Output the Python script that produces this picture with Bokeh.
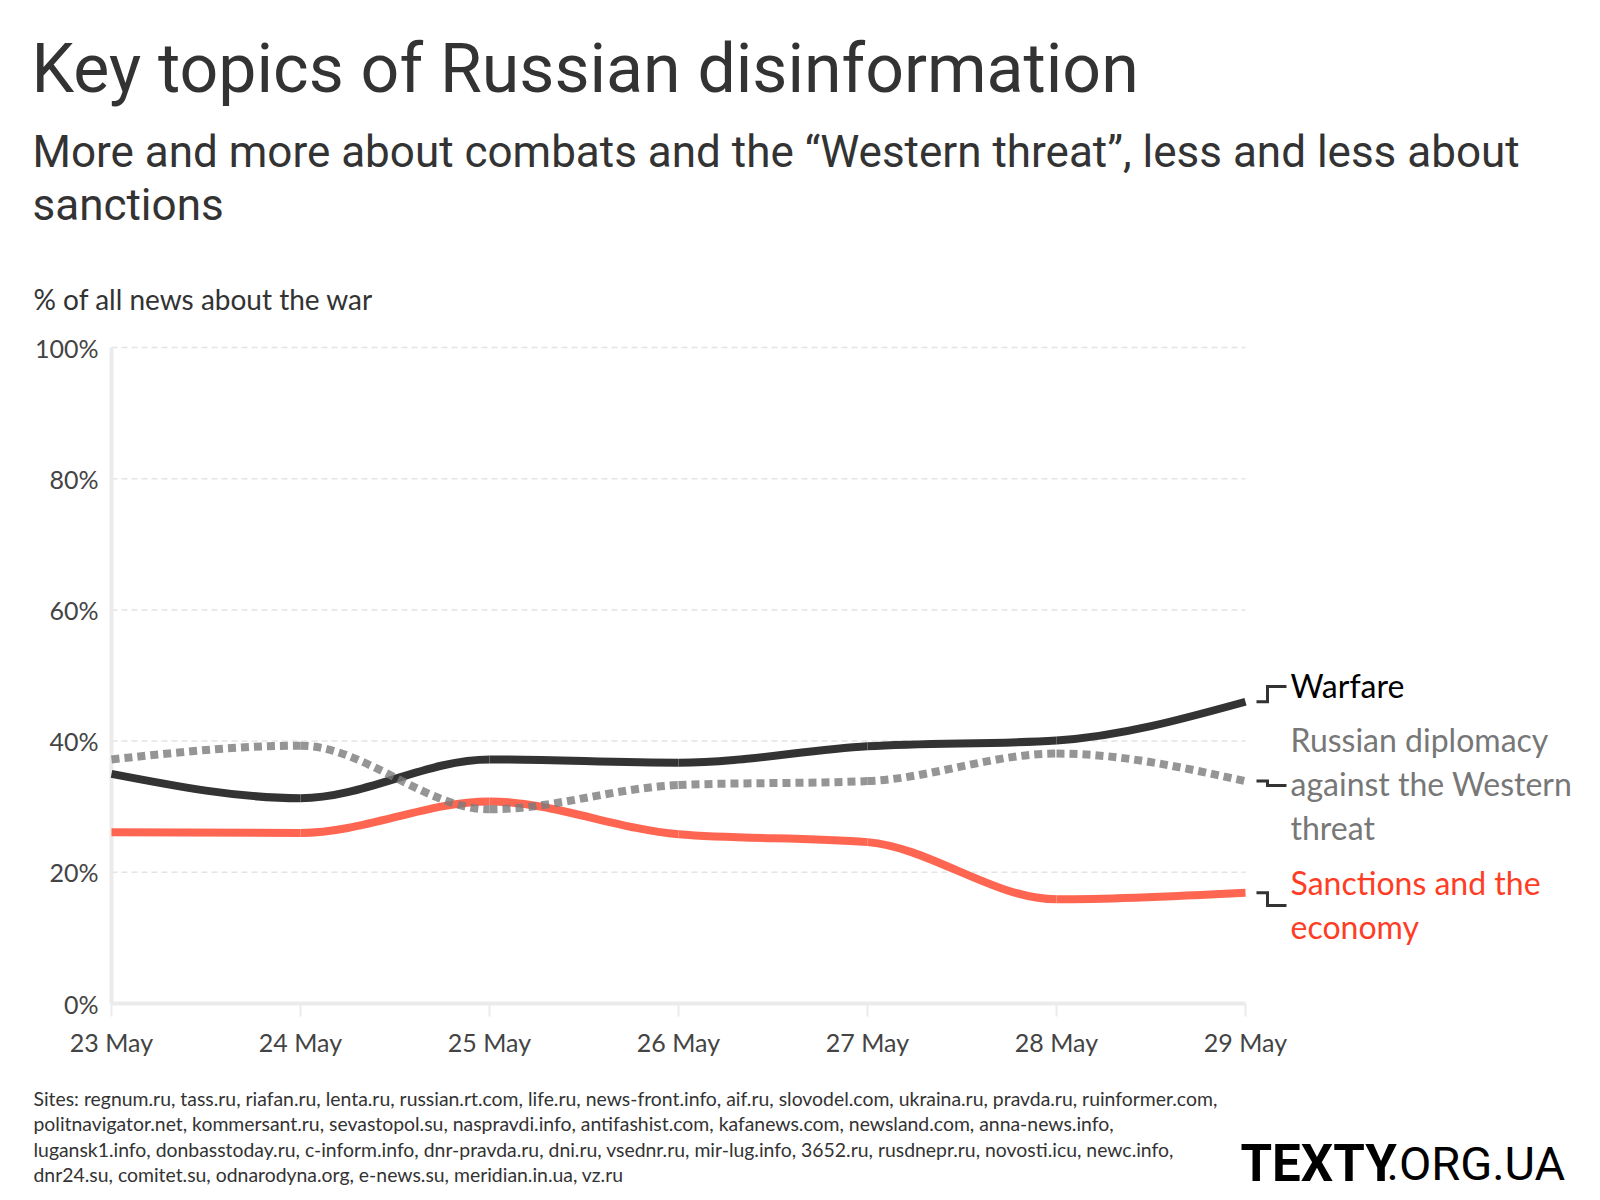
import numpy as np
from bokeh.plotting import figure
from bokeh.models import ColumnDataSource
from bokeh.core.properties import value
from bokeh.embed import file_html
from bokeh.resources import INLINE

# ---------------- data ----------------
dates = ["23 May", "24 May", "25 May", "26 May", "27 May", "28 May", "29 May"]
warfare = [35.0, 31.3, 37.2, 36.7, 39.2, 40.1, 46.0]
diplomacy = [37.2, 39.3, 29.6, 33.3, 33.9, 38.1, 33.9]
sanctions = [26.1, 26.0, 30.8, 25.8, 24.6, 15.9, 16.9]
y_ticks = [0, 20, 40, 60, 80, 100]
y_tick_labels = ["0%", "20%", "40%", "60%", "80%", "100%"]

title_text = "Key topics of Russian disinformation"
subtitle_lines = ["More and more about combats and the \u201cWestern threat\u201d, less and less about",
                  "sanctions"]
y_title = "% of all news about the war"
series_labels = {
    "warfare": ["Warfare"],
    "diplomacy": ["Russian diplomacy", "against the Western", "threat"],
    "sanctions": ["Sanctions and the", "economy"],
}
footer_lines = [
    "Sites: regnum.ru, tass.ru, riafan.ru, lenta.ru, russian.rt.com, life.ru, news-front.info, aif.ru, slovodel.com, ukraina.ru, pravda.ru, ruinformer.com,",
    "politnavigator.net, kommersant.ru, sevastopol.su, naspravdi.info, antifashist.com, kafanews.com, newsland.com, anna-news.info,",
    "lugansk1.info, donbasstoday.ru, c-inform.info, dnr-pravda.ru, dni.ru, vsednr.ru, mir-lug.info, 3652.ru, rusdnepr.ru, novosti.icu, newc.info,",
    "dnr24.su, comitet.su, odnarodyna.org, e-news.su, meridian.in.ua, vz.ru",
]
logo_parts = ["TEXTY", ".ORG.UA"]

# ---------------- layout: page pixels <-> data units ----------------
W, H = 1584, 1196
FX0, FX1 = 111, 1245      # plot area left/right in page px
FY0, FY1 = 1003, 347      # plot area bottom (0%) / top (100%) in page px
XMAX = len(dates) - 1


def dx(px):
    return (px - FX0) / (FX1 - FX0) * XMAX


def dy(py):
    return (FY0 - py) / (FY0 - FY1) * 100.0


BODY = "Lato"
HEAD = "Roboto"
AXIS_C = "#ebebeb"

p = figure(width=W, height=H, x_range=(dx(0), dx(W)), y_range=(dy(H), dy(0)),
           x_axis_type=None, y_axis_type=None,
           output_backend="svg", toolbar_location=None,
           min_border=0, min_border_left=0, min_border_right=0,
           min_border_top=0, min_border_bottom=0)
p.outline_line_color = None
p.background_fill_color = "white"
p.border_fill_color = "white"

xs = list(range(len(dates)))

# grid lines (dashed) at y ticks above 0
gy = y_ticks[1:]
p.segment(x0=[0] * len(gy), x1=[XMAX] * len(gy), y0=gy, y1=gy,
          line_color="#e4e4e4", line_width=1.5, line_dash="6 4")

# axis lines
p.segment(x0=[0, 0], y0=[0, 0], x1=[0, XMAX], y1=[100, 0], line_color=AXIS_C, line_width=4)
# x ticks
p.segment(x0=xs, x1=xs, y0=[0] * len(xs), y1=[dy(1016)] * len(xs), line_color=AXIS_C, line_width=2)

# tick labels
p.text(x=[dx(98)] * len(y_ticks), y=y_ticks, text=y_tick_labels, text_font=value(BODY),
       text_font_size=value("25px"), text_color="#444444", text_align="right", text_baseline="middle")
p.text(x=xs, y=[dy(1041)] * len(xs), text=dates, text_font=value(BODY),
       text_font_size=value("25px"), text_color="#444444", text_align="center", text_baseline="middle")


# ---------------- monotone-x cubic curves (same construction as d3.curveMonotoneX) ----------------
def monotone_segments(xv, yv):
    xv = np.asarray(xv, float)
    yv = np.asarray(yv, float)
    n = len(xv)
    h = np.diff(xv)
    s = np.diff(yv) / h
    t = np.zeros(n)
    for i in range(1, n - 1):
        h0, h1 = h[i - 1], h[i]
        s0, s1 = s[i - 1], s[i]
        pp = (s0 * h1 + s1 * h0) / (h0 + h1)
        t[i] = (np.sign(s0) + np.sign(s1)) * min(abs(s0), abs(s1), 0.5 * abs(pp))
    t[0] = (3 * s[0] - t[1]) / 2
    t[-1] = (3 * s[-1] - t[-2]) / 2
    d = h / 3.0
    return dict(x0=xv[:-1], y0=yv[:-1], x1=xv[1:], y1=yv[1:],
                cx0=xv[:-1] + d, cy0=yv[:-1] + d * t[:-1],
                cx1=xv[1:] - d, cy1=yv[1:] - d * t[1:])


for vals, color, alpha, dash in [
    (warfare, "#333333", 1.0, "solid"),
    (sanctions, "#ff6652", 1.0, "solid"),
    (diplomacy, "#7a7a7a", 0.8, "8 5"),
]:
    src = ColumnDataSource(monotone_segments(xs, vals))
    p.bezier(x0="x0", y0="y0", x1="x1", y1="y1", cx0="cx0", cy0="cy0", cx1="cx1", cy1="cy1",
             source=src, line_color=color, line_alpha=alpha, line_width=8,
             line_dash=dash, line_cap="butt")

# ---------------- series labels with step connectors ----------------
cx_a, cx_b, cx_c = dx(1256), dx(1267), dx(1286)
label_y = {"warfare": [685], "diplomacy": [739, 783, 827], "sanctions": [882, 926]}
connector_target = {"warfare": 686, "diplomacy": 785, "sanctions": 905}
series_end = {"warfare": warfare[-1], "diplomacy": diplomacy[-1], "sanctions": sanctions[-1]}
label_color = {"warfare": "#000000", "diplomacy": "#777777", "sanctions": "#ff3d24"}

cxs, cys = [], []
for key in ["warfare", "diplomacy", "sanctions"]:
    y_start = series_end[key]
    y_end = dy(connector_target[key])
    cxs.append([cx_a, cx_b, cx_b, cx_c])
    cys.append([y_start, y_start, y_end, y_end])
    p.text(x=[dx(1290)] * len(series_labels[key]), y=[dy(v) for v in label_y[key]],
           text=series_labels[key], text_font=value(BODY), text_font_size=value("32px"),
           text_color=label_color[key], text_baseline="middle", text_align="left")
p.multi_line(xs=cxs, ys=cys, line_color="#333333", line_width=3, line_join="miter")

# ---------------- titles ----------------
p.text(x=[dx(31)], y=[dy(68)], text=[title_text], text_font=value(HEAD), text_font_size=value("68px"),
       text_color="#333333", text_baseline="middle")
p.text(x=[dx(32)] * 2, y=[dy(151), dy(204)], text=subtitle_lines, text_font=value(HEAD),
       text_font_size=value("44px"), text_color="#333333", text_baseline="middle")
p.text(x=[dx(33)], y=[dy(298)], text=[y_title], text_font=value(BODY), text_font_size=value("28px"),
       text_color="#333333", text_baseline="middle")

# ---------------- footer ----------------
p.text(x=[dx(33)] * len(footer_lines), y=[dy(v) for v in [1098, 1123, 1149, 1174]], text=footer_lines,
       text_font=value(BODY), text_font_size=value("19.4px"), text_color="#333333", text_baseline="middle")

p.text(x=[dx(1240)], y=[dy(1163)], text=[logo_parts[0]], text_font=value(HEAD), text_font_size=value("51px"),
       text_font_style="bold", text_color="#000000", text_baseline="middle", text_line_height=1.0)
p.text(x=[dx(1386)], y=[dy(1163)], text=[logo_parts[1]], text_font=value(HEAD), text_font_size=value("47px"),
       text_color="#000000", text_baseline="middle", text_align="left", text_line_height=1.0)

open("out.html", "w").write(file_html(p, INLINE))
